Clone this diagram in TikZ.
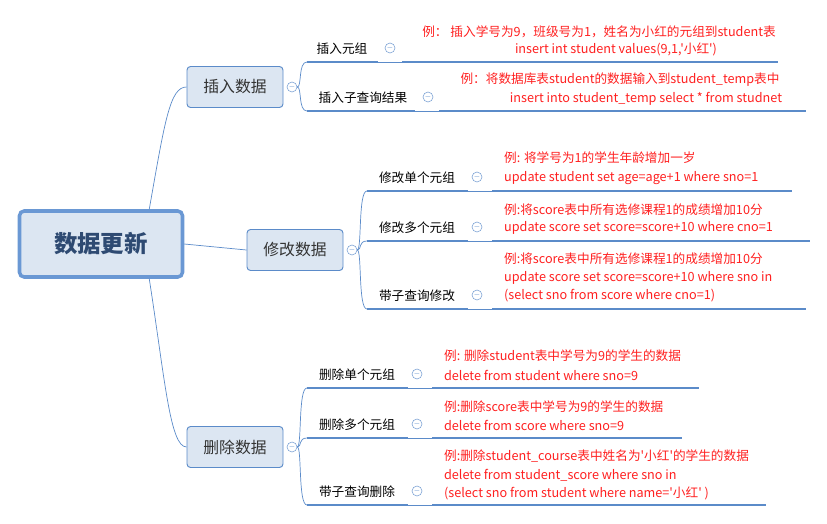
\documentclass[tikz,border=0pt]{standalone}
\usepackage{fontspec}
\setmainfont{Liberation Sans}
\newfontfamily\cjk{Noto Sans CJK SC}
\begin{document}
\begin{tikzpicture}[x=0.03cm,y=-0.03cm]
\definecolor{lb}{HTML}{DCE6F2}
\definecolor{bb}{HTML}{5B8BC9}
\definecolor{rb}{HTML}{6A98D4}
\definecolor{rt}{HTML}{2E4A72}
\definecolor{rd}{HTML}{FF2020}
\tikzset{
 l1/.style={draw=bb,fill=lb,rounded corners=3pt,line width=0.8pt,minimum width=96*0.03cm,minimum height=41*0.03cm,font=\cjk\fontsize{13.5}{15}\selectfont,text=black!80},
 sub/.style={font=\cjk\fontsize{10.8}{12}\selectfont,text=black},
 ct/.style={font=\cjk\fontsize{10.8}{12}\selectfont,text=rd,anchor=west},
 ctc/.style={font=\cjk\fontsize{10.8}{12}\selectfont,text=rd},
 thk/.style={draw=bb,line width=2.2pt},
 thn/.style={draw=bb,line width=0.6pt},
 tog/.style={circle,draw=bb!80,line width=0.5pt,inner sep=0pt,minimum size=10*0.03cm,font=\fontsize{6}{6}\selectfont,text=bb},
}
\useasboundingbox (0,0) rectangle (827,523);
% root
\node[draw=rb,line width=3pt,fill=lb,rounded corners=4pt,minimum width=163*0.03cm,minimum height=66*0.03cm,font=\cjk\bfseries\fontsize{20}{22}\selectfont,text=rt] (root) at (101,244) {数据更新};
% level 1
\node[l1] (ins) at (235,87) {插入数据};
\node[l1] (mod) at (295,250) {修改数据};
\node[l1] (del) at (235,447) {删除数据};
\node[tog] (tins) at (292,87) {$-$};
\node[tog] (tmod) at (352,250) {$-$};
\node[tog] (tdel) at (292,447) {$-$};
\draw[thn] (root.north east) ++(-35,0) coordinate (r1) .. controls (165,120) and (170,87) .. (ins.west);
\draw[thn] (root.east) -- (mod.west);
\draw[thn] (root.south east) ++(-35,0) coordinate (r3) .. controls (165,380) and (170,447) .. (del.west);
% subtopics
\newcommand{\row}[8]{% name, label, lx, toggle x, y(line), x0, x1(sub end), x2(content end)
 \node[sub] (#1) at (#3,#5-13) {#2};
 \node[tog] (#1t) at (#4,#5-14) {$-$};
 \coordinate (#1a) at (#6,#5); \coordinate (#1b) at (#7,#5);
 \coordinate (#1c) at (#7+24,#5); \coordinate (#1d) at (#8,#5);
 \draw[thk] (#1a) -- (#1b); \draw[thn] (#1b) -- (#1c); \draw[thk] (#1c) -- (#1d);}
\row{s1}{插入元组}{342}{390}{62}{307}{378}{778}
\row{s2}{插入子查询结果}{363}{428}{111}{307}{415}{806}
\row{m1}{修改单个元组}{417}{477}{191}{367}{468}{792}
\row{m2}{修改多个元组}{417}{477}{241}{367}{468}{810}
\row{m3}{带子查询修改}{417}{477}{309}{367}{468}{806}
\row{d1}{删除单个元组}{357}{417}{388}{307}{408}{699}
\row{d2}{删除多个元组}{357}{417}{438}{307}{408}{682}
\row{d3}{带子查询删除}{357}{417}{505}{307}{408}{766}
\draw[thn] (tins.east) .. controls (302,87) and (298,62) .. (s1a);
\draw[thn] (tins.east) .. controls (302,87) and (298,111) .. (s2a);
\draw[thn] (tmod.east) .. controls (362,250) and (358,191) .. (m1a);
\draw[thn] (tmod.east) .. controls (362,250) and (358,241) .. (m2a);
\draw[thn] (tmod.east) .. controls (362,250) and (358,309) .. (m3a);
\draw[thn] (tdel.east) .. controls (302,447) and (298,388) .. (d1a);
\draw[thn] (tdel.east) .. controls (302,447) and (298,438) .. (d2a);
\draw[thn] (tdel.east) .. controls (302,447) and (298,505) .. (d3a);
% contents
\node[ctc] (c1) at (599,32) {例：\ 插入学号为9，班级号为1，姓名为小红的元组到student表};
\node[ctc] (c2) at (616,49) {insert int student values(9,1,'小红')};
\node[ctc] (c3) at (620,80) {例：将数据库表student的数据输入到student\_temp表中};
\node[ctc] (c4) at (646,99) {insert into student\_temp select * from studnet};
\node[ct] (c5) at (500,158) {例: 将学号为1的学生年龄增加一岁};
\node[ct] (c6) at (500,178) {update student set age=age+1 where sno=1};
\node[ct] (c7) at (500,210) {例:将score表中所有选修课程1的成绩增加10分};
\node[ct] (c8) at (500,228) {update score set score=score+10 where cno=1};
\node[ct] (c9) at (500,259) {例:将score表中所有选修课程1的成绩增加10分};
\node[ct] (c10) at (500,278) {update score set score=score+10 where sno in};
\node[ct] (c11) at (500,296) {(select sno from score where cno=1)};
\node[ct] (c12) at (440,356) {例: 删除student表中学号为9的学生的数据};
\node[ct] (c13) at (440,375) {delete from student where sno=9};
\node[ct] (c14) at (440,407) {例:删除score表中学号为9的学生的数据};
\node[ct] (c15) at (440,425) {delete from score where sno=9};
\node[ct] (c16) at (440,456) {例:删除student\_course表中姓名为'小红'的学生的数据};
\node[ct] (c17) at (440,475) {delete from student\_score where sno in};
\node[ct] (c18) at (440,493) {(select sno from student where name='小红' )};
\end{tikzpicture}
\end{document}
